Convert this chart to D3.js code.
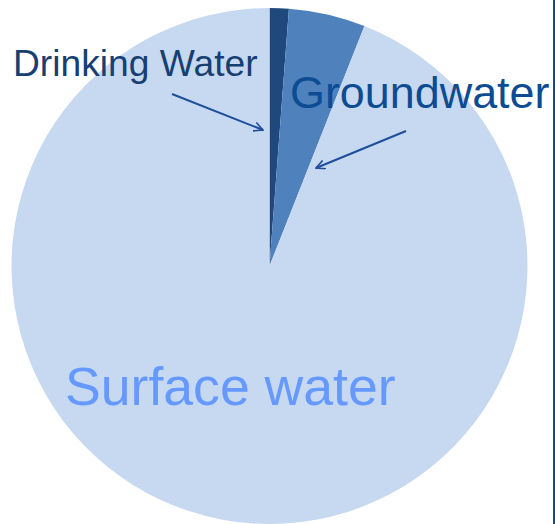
<!DOCTYPE html>
<html><head><meta charset="utf-8">
<script src="https://cdn.jsdelivr.net/npm/d3@7"></script>
<style>html,body{margin:0;padding:0;background:#fff;}svg{display:block;}</style>
</head><body>
<script>
const categories = ["Drinking Water", "Groundwater", "Surface water"];
const values = [1.2, 4.8, 94.0];
const colors = ["#1f497d", "#4f81bd", "#c6d9f1"];

const W = 555, H = 524;
const svg = d3.select("body").append("svg").attr("width", W).attr("height", H);
const cx = 269.5, cy = 266, r = 258;

const pie = d3.pie().sort(null).value(d => d)(values);
const arc = d3.arc().innerRadius(0).outerRadius(r);
const g = svg.append("g").attr("transform", `translate(${cx},${cy})`);
g.selectAll("path").data(pie).join("path")
  .attr("d", arc).attr("fill", (d, i) => colors[i]);

// right border line
svg.append("line").attr("x1", 554).attr("x2", 554).attr("y1", 0).attr("y2", H)
  .attr("stroke", "#0b4a8f").attr("stroke-width", 2);

const defs = svg.append("defs");
defs.append("marker").attr("id", "arr").attr("viewBox", "0 0 10 10")
  .attr("refX", 9).attr("refY", 5).attr("markerWidth", 10).attr("markerHeight", 10)
  .attr("orient", "auto").attr("markerUnits", "userSpaceOnUse")
  .append("path").attr("d", "M0,0.5 L9,5 L0,9.5").attr("fill", "none")
  .attr("stroke", "#1f4e9a").attr("stroke-width", 1.6);

// arrows
const arrows = [[172, 94, 263, 130], [406, 131, 316, 168]];
svg.selectAll("line.arrow").data(arrows).join("line").attr("class", "arrow")
  .attr("x1", d => d[0]).attr("y1", d => d[1]).attr("x2", d => d[2]).attr("y2", d => d[3])
  .attr("stroke", "#1f4e9a").attr("stroke-width", 2)
  .attr("marker-end", "url(#arr)");

// labels
const font = "Liberation Sans, Arial, sans-serif";
svg.append("text").attr("x", 13).attr("y", 76).text(categories[0])
  .attr("font-family", font).attr("font-size", 37.2).attr("fill", "#173f72");
svg.append("text").attr("x", 290).attr("y", 108).text(categories[1])
  .attr("font-family", font).attr("font-size", 44.9).attr("fill", "#0d4b93");
svg.append("text").attr("x", 65).attr("y", 405).text(categories[2])
  .attr("font-family", font).attr("font-size", 53.6).attr("fill", "#6699ff");
</script>
</body></html>
